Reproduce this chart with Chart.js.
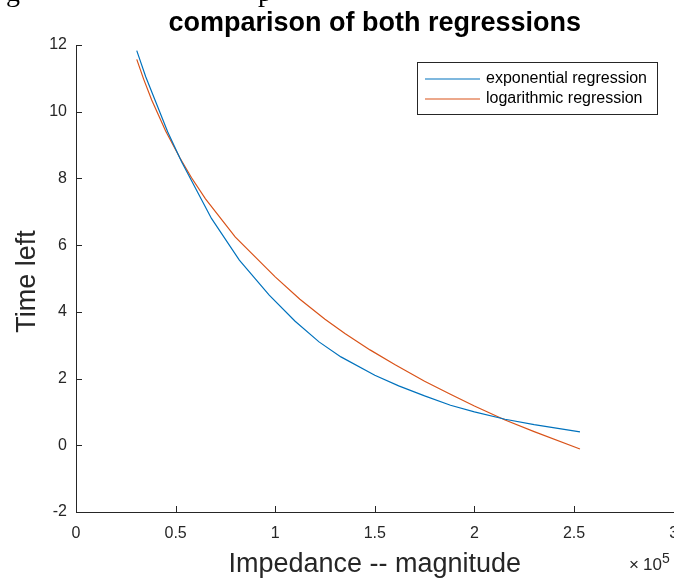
<!DOCTYPE html>
<html>
<head>
<meta charset="utf-8">
<script src="https://cdn.jsdelivr.net/npm/chart.js@4.4.1/dist/chart.umd.min.js"></script>
<style>
  html, body { margin: 0; padding: 0; overflow: hidden; background: #fff; }
  #wrap { width: 700px; height: 579px; }
</style>
</head>
<body>
<div id="wrap"><canvas id="c" width="700" height="579"></canvas></div>
<script>
// values (impedance magnitude, time left)
const expImpedance = [30500, 35000, 40000, 46000, 53000, 68000, 82000, 97000, 110000, 122000, 133000, 150000, 162000, 175000, 188000, 200000, 215400, 230000, 253000];
const expTimeLeft  = [11.83, 11.05, 10.3, 9.4, 8.5, 6.8, 5.55, 4.5, 3.72, 3.1, 2.65, 2.1, 1.78, 1.48, 1.2, 1.0, 0.78, 0.62, 0.40];

const logImpedance = [30500, 34000, 38000, 45000, 52200, 58000, 65000, 80000, 100000, 112400, 125000, 135000, 147600, 160000, 175000, 187700, 200000, 215400, 230000, 253000];
const logTimeLeft  = [11.57, 10.97, 10.35, 9.42, 8.61, 8.02, 7.39, 6.24, 5.05, 4.38, 3.78, 3.35, 2.86, 2.42, 1.92, 1.54, 1.18, 0.76, 0.41, -0.11];

const xTicks = [0, 50000, 100000, 150000, 200000, 250000, 300000];
const yTicks = [-2, 0, 2, 4, 6, 8, 10, 12];

const AX = '#262626';
const FONT = '"Liberation Sans", Arial, sans-serif';

const toPoints = (xs, ys) => xs.map((x, i) => ({ x: x, y: ys[i] }));

// titles, inward ticks, exponent and boxed legend, matlab style
const decor = {
  id: 'decor',
  afterDraw(chart) {
    const ctx = chart.ctx;
    const a = chart.chartArea;
    const sx = chart.scales.x, sy = chart.scales.y;
    ctx.save();

    // inward tick marks
    ctx.strokeStyle = AX;
    ctx.lineWidth = 1;
    ctx.beginPath();
    xTicks.forEach(v => {
      const px = Math.round(sx.getPixelForValue(v)) + 0.5;
      ctx.moveTo(px, a.bottom);
      ctx.lineTo(px, a.bottom - 6);
    });
    yTicks.forEach(v => {
      const py = Math.round(sy.getPixelForValue(v)) + 0.5;
      ctx.moveTo(a.left, py);
      ctx.lineTo(a.left + 6, py);
    });
    ctx.stroke();

    // cut-off caption line above the figure
    ctx.fillStyle = '#000';
    ctx.font = '28px "Liberation Serif", serif';
    ctx.textAlign = 'left';
    ctx.textBaseline = 'alphabetic';
    ctx.fillText('g', 6, 1);
    ctx.fillText('p', 258, 1);

    // title
    ctx.font = 'bold 27px ' + FONT;
    ctx.textAlign = 'center';
    ctx.fillText('comparison of both regressions', (a.left + a.right) / 2, 31);

    // axis labels
    ctx.fillStyle = AX;
    ctx.font = '27px ' + FONT;
    ctx.fillText('Impedance -- magnitude', (a.left + a.right) / 2, 572);
    ctx.save();
    ctx.translate(35, (a.top + a.bottom) / 2 + 3);
    ctx.rotate(-Math.PI / 2);
    ctx.fillText('Time left', 0, 0);
    ctx.restore();

    // x exponent
    ctx.textAlign = 'left';
    ctx.font = '17px ' + FONT;
    ctx.fillText('\u00d7', 629, 570);
    ctx.fillText('10', 643, 570);
    ctx.font = '14px ' + FONT;
    ctx.fillText('5', 662, 563);

    // legend
    const lx = 417.5, ly = 62.5, lw = 240, lh = 52;
    ctx.fillStyle = '#fff';
    ctx.fillRect(lx, ly, lw, lh);
    ctx.strokeStyle = AX;
    ctx.strokeRect(lx, ly, lw, lh);
    ctx.font = '16px ' + FONT;
    ctx.textBaseline = 'middle';
    chart.data.datasets.forEach((ds, i) => {
      const y = 79 + i * 20;
      ctx.strokeStyle = ds.borderColor;
      ctx.lineWidth = 1.2;
      ctx.beginPath();
      ctx.moveTo(425, y);
      ctx.lineTo(480, y);
      ctx.stroke();
      ctx.fillStyle = '#000';
      ctx.fillText(ds.label, 486, y);
    });

    ctx.restore();
  }
};

new Chart(document.getElementById('c'), {
  type: 'line',
  data: {
    datasets: [
      {
        label: 'exponential regression',
        data: toPoints(expImpedance, expTimeLeft),
        borderColor: '#0072BD',
        borderWidth: 1.2,
        pointRadius: 0,
        tension: 0,
        fill: false
      },
      {
        label: 'logarithmic regression',
        data: toPoints(logImpedance, logTimeLeft),
        borderColor: '#D95319',
        borderWidth: 1.2,
        pointRadius: 0,
        tension: 0,
        fill: false
      }
    ]
  },
  options: {
    responsive: false,
    animation: false,
    layout: { padding: { top: 45, right: 26.4, left: 0, bottom: 0 } },
    plugins: {
      legend: { display: false },
      title: { display: false },
      tooltip: { enabled: false }
    },
    scales: {
      x: {
        type: 'linear',
        min: 0,
        max: 300000,
        afterBuildTicks: s => { s.ticks = xTicks.map(v => ({ value: v })); },
        afterFit: s => { s.height = 67; },
        grid: { display: false, drawTicks: false },
        border: { display: true, color: AX, width: 1 },
        ticks: {
          color: AX,
          font: { family: FONT, size: 16 },
          padding: 12,
          maxRotation: 0,
          autoSkip: false,
          callback: v => String(v / 100000)
        }
      },
      y: {
        type: 'linear',
        min: -2,
        max: 12,
        afterBuildTicks: s => { s.ticks = yTicks.map(v => ({ value: v })); },
        afterFit: s => { s.width = 76; },
        grid: { display: false, drawTicks: false },
        border: { display: true, color: AX, width: 1 },
        ticks: {
          color: AX,
          font: { family: FONT, size: 16 },
          padding: 9,
          autoSkip: false,
          callback: v => String(v)
        }
      }
    }
  },
  plugins: [decor]
});
</script>
</body>
</html>
